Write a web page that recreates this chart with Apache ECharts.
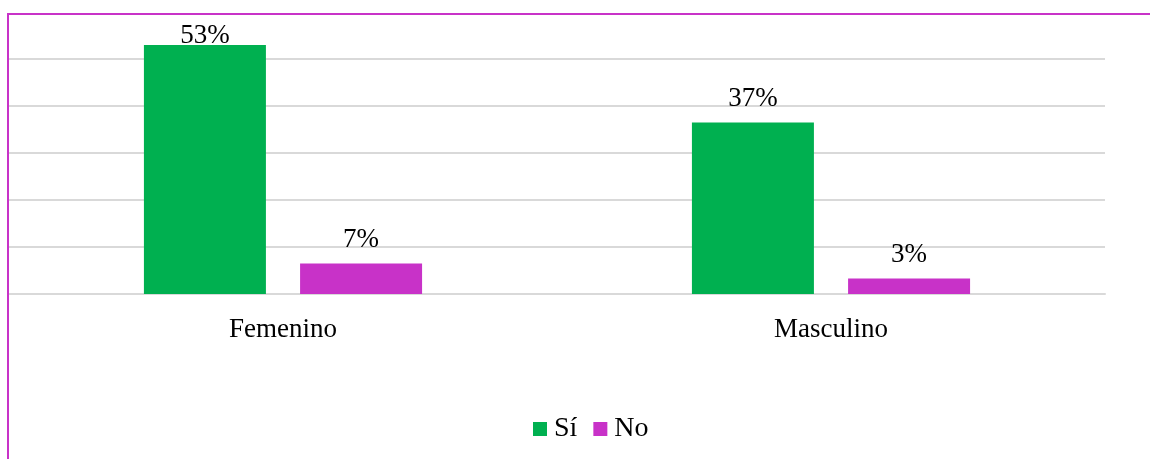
<!DOCTYPE html>
<html>
<head>
<meta charset="utf-8">
<script src="https://cdn.jsdelivr.net/npm/echarts@6/dist/echarts.min.js"></script>
<style>
  html, body { margin: 0; padding: 0; background: #fff; }
  #wrap { position: relative; width: 1150px; height: 459px; }
  #chart { width: 1150px; height: 459px; }
  #frame {
    position: absolute; left: 7px; top: 13px; right: 0; bottom: 0;
    border-left: 2px solid #c832c8; border-top: 2px solid #c832c8;
    pointer-events: none;
  }
</style>
</head>
<body>
<div id="wrap">
  <div id="chart"></div>
  <div id="frame"></div>
</div>
<script>
const categories = ['Femenino', 'Masculino']
// bar heights as measured; labels show the rounded percentages
const siValues = [53, 36.5]
const noValues = [6.5, 3.3]
const seriesNames = ['Sí', 'No']

const chart = echarts.init(document.getElementById('chart'))
const font = '"Liberation Serif", "Times New Roman", serif'

const labelStyle = {
  show: true,
  position: 'top',
  distance: 10,
  formatter: p => Math.round(p.value) + '%',
  fontFamily: font,
  fontSize: 27,
  color: '#000'
}

chart.setOption({
  animation: false,
  textStyle: { fontFamily: font },
  grid: { left: 9, right: 45, top: 12, bottom: 165 },
  legend: {
    bottom: 16,
    left: 533,
    icon: 'rect',
    itemWidth: 14,
    itemHeight: 14,
    itemGap: 16,
    padding: 0,
    textStyle: { fontFamily: font, fontSize: 28, color: '#000', padding: [0, 0, 0, 2] },
    data: seriesNames
  },
  xAxis: {
    type: 'category',
    data: categories,
    axisLine: { lineStyle: { color: '#d9d9d9', width: 2 } },
    axisTick: { show: false },
    axisLabel: { fontFamily: font, fontSize: 27, color: '#000', margin: 22 }
  },
  yAxis: {
    type: 'value',
    min: 0,
    max: 60,
    interval: 10,
    axisLabel: { show: false },
    axisLine: { show: false },
    axisTick: { show: false },
    splitLine: { showMaxLine: false, lineStyle: { color: '#d9d9d9', width: 2 } }
  },
  series: [
    {
      name: seriesNames[0],
      type: 'bar',
      // the tallest label is pushed down against the top of the plot
      data: siValues.map((v, i) => i === 0 ? { value: v, label: { distance: -5 } } : v),
      barWidth: 122,
      barGap: '28%',
      itemStyle: { color: '#00b050' },
      label: labelStyle
    },
    {
      name: seriesNames[1],
      type: 'bar',
      data: noValues,
      barWidth: 122,
      itemStyle: { color: '#c832c8' },
      label: labelStyle
    }
  ]
})
</script>
</body>
</html>
